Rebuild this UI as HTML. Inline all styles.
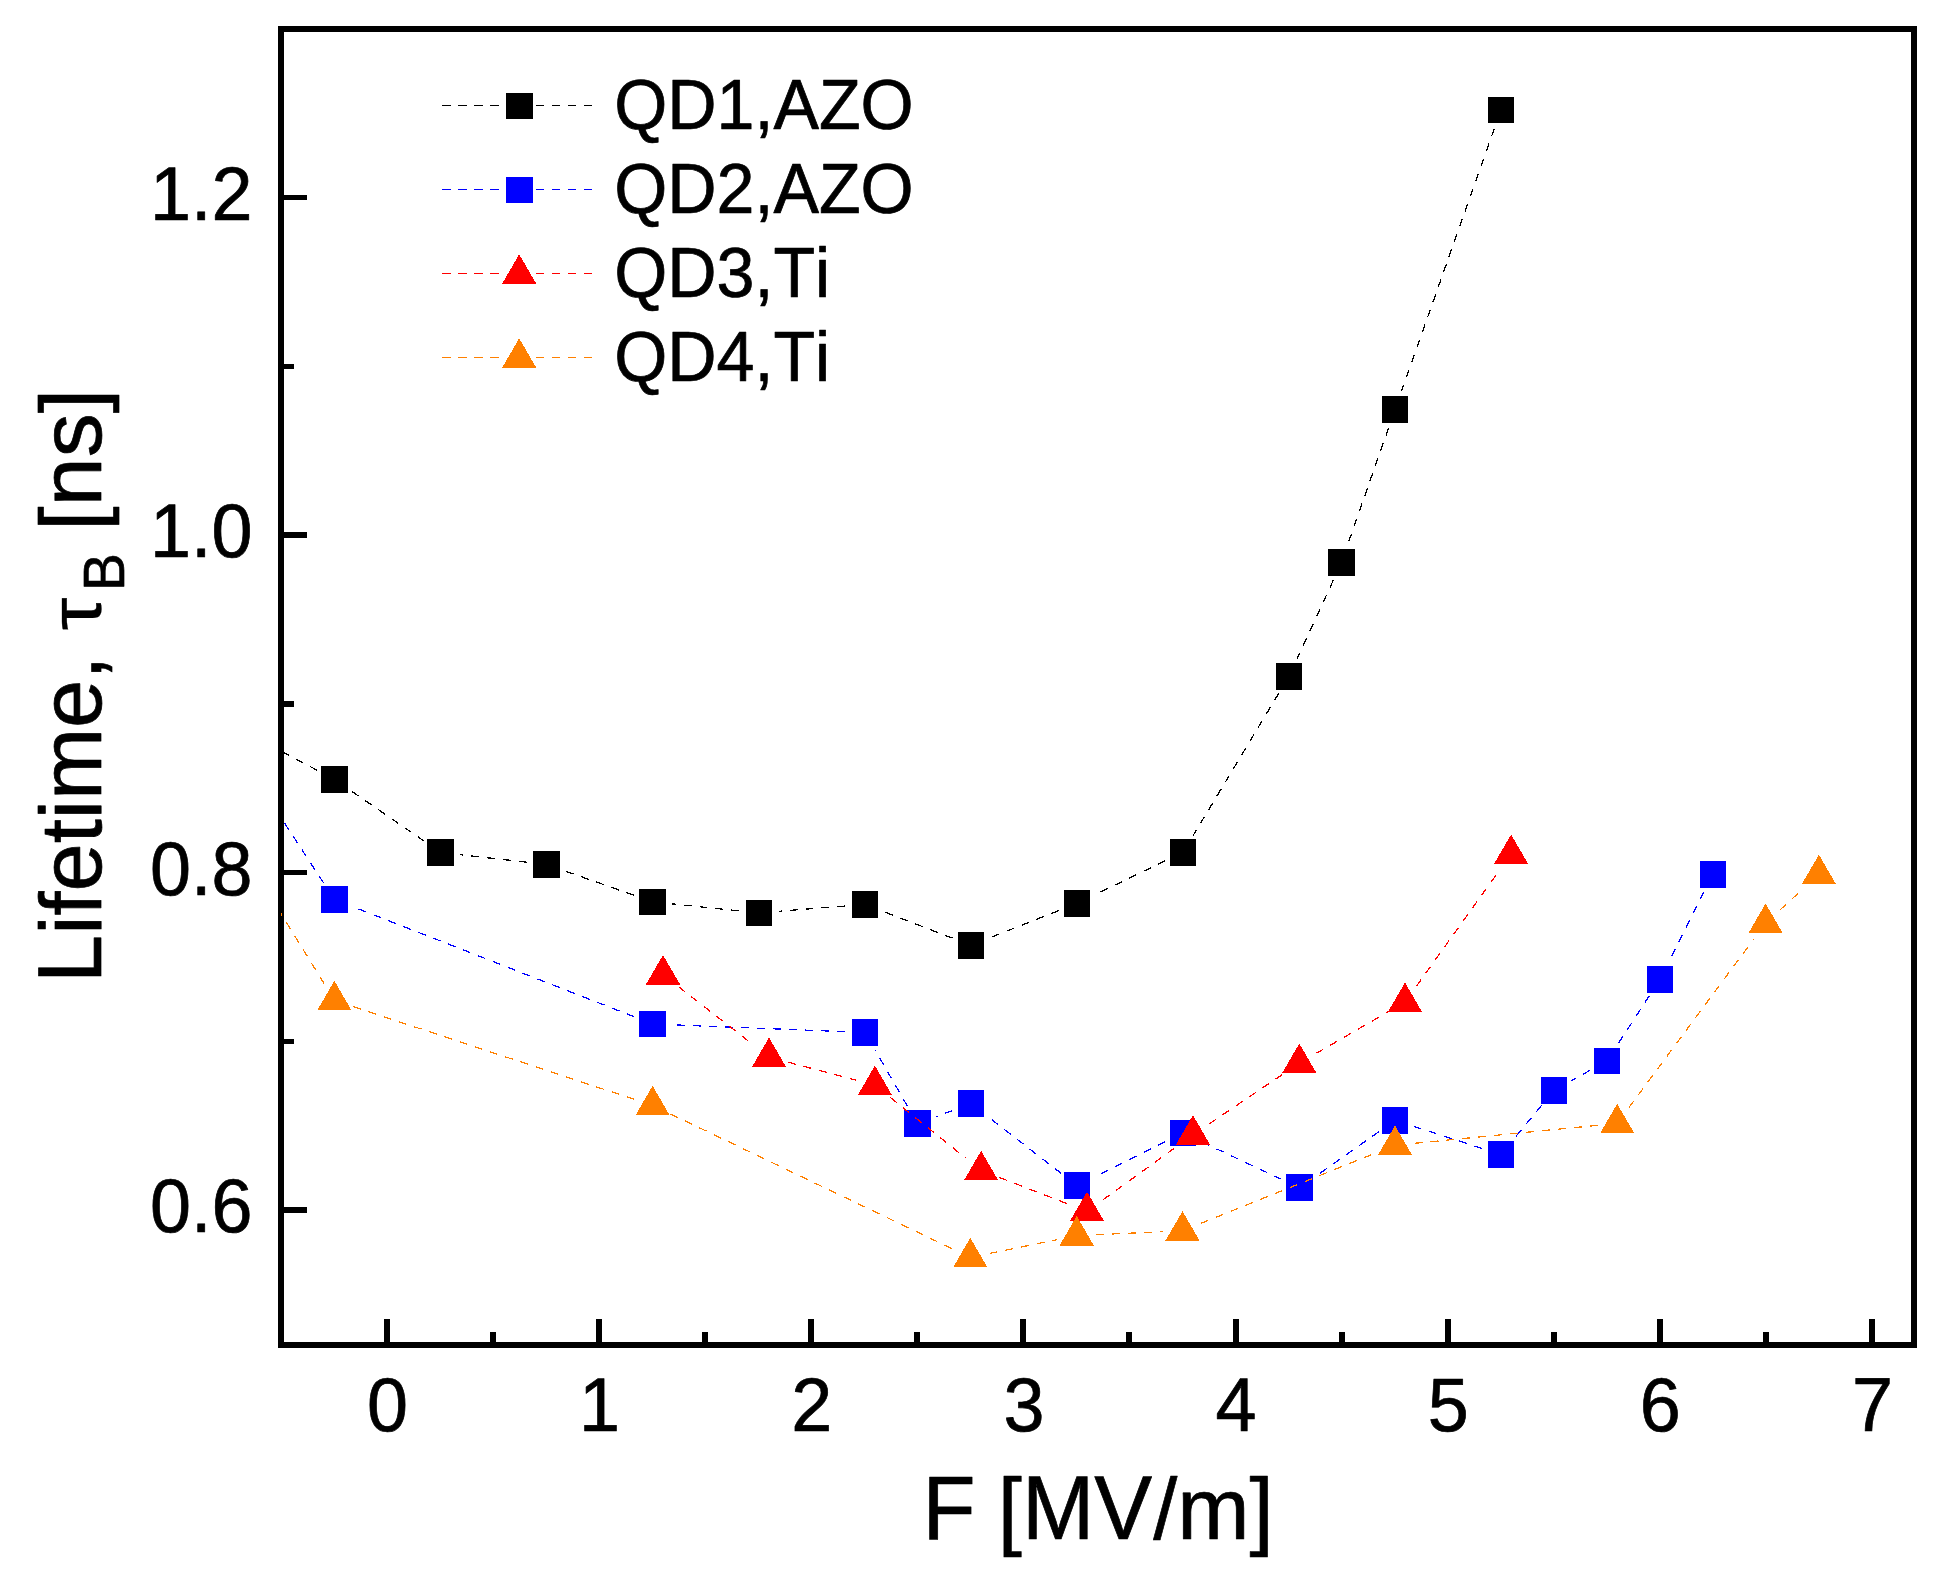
<!DOCTYPE html>
<html><head><meta charset="utf-8"><title>Lifetime vs F</title>
<style>
html,body{margin:0;padding:0;background:#fff;}
svg{display:block;}
text{font-family:"Liberation Sans",sans-serif;fill:#000;stroke:#000;stroke-width:0.7px;stroke-linejoin:round;font-kerning:none;}
</style></head><body>
<svg width="1942" height="1572" viewBox="0 0 1942 1572">
<rect x="0" y="0" width="1942" height="1572" fill="#fff"/>
<defs><clipPath id="plot"><rect x="281" y="29" width="1633" height="1316"/></clipPath></defs>

<g shape-rendering="crispEdges">
<rect x="281" y="29" width="1633" height="1316" fill="none" stroke="#000" stroke-width="6"/>
<g fill="#000"><rect x="384" y="1319" width="6" height="24"/><rect x="596" y="1319" width="6" height="24"/><rect x="808" y="1319" width="6" height="24"/><rect x="1020" y="1319" width="6" height="24"/><rect x="1233" y="1319" width="6" height="24"/><rect x="1445" y="1319" width="6" height="24"/><rect x="1657" y="1319" width="6" height="24"/><rect x="1869" y="1319" width="6" height="24"/><rect x="490" y="1332" width="6" height="11"/><rect x="702" y="1332" width="6" height="11"/><rect x="914" y="1332" width="6" height="11"/><rect x="1126" y="1332" width="6" height="11"/><rect x="1339" y="1332" width="6" height="11"/><rect x="1551" y="1332" width="6" height="11"/><rect x="1763" y="1332" width="6" height="11"/><rect x="283" y="195" width="24" height="5"/><rect x="283" y="532" width="24" height="6"/><rect x="283" y="870" width="24" height="5"/><rect x="283" y="1207" width="24" height="6"/><rect x="283" y="364" width="11" height="5"/><rect x="283" y="701" width="11" height="6"/><rect x="283" y="1039" width="11" height="5"/></g></g>
<g clip-path="url(#plot)">
<g stroke="#000" stroke-width="1.25" stroke-dasharray="8 8" fill="none" shape-rendering="crispEdges"><line x1="317.1" y1="770.2" x2="245.3" y2="732.4"/><line x1="424.4" y1="841.3" x2="350.7" y2="790.6"/><line x1="526.9" y1="862.2" x2="460.2" y2="854.7"/><line x1="634.0" y1="895.3" x2="565.1" y2="871.0"/><line x1="739.3" y1="910.9" x2="672.2" y2="903.9"/><line x1="845.4" y1="906.0" x2="778.5" y2="911.3"/><line x1="952.6" y1="938.2" x2="883.4" y2="911.5"/><line x1="1058.7" y1="910.6" x2="989.3" y2="938.0"/><line x1="1165.2" y1="860.8" x2="1094.8" y2="894.8"/><line x1="1278.8" y1="693.2" x2="1193.2" y2="835.4"/><line x1="1333.3" y1="580.2" x2="1297.2" y2="658.4"/><line x1="1388.5" y1="428.0" x2="1348.0" y2="543.7"/><line x1="1494.3" y1="128.5" x2="1401.6" y2="390.8"/></g>
<g fill="#000" shape-rendering="crispEdges"><rect x="321.25" y="766.15" width="26.5" height="26.5"/><rect x="427.35" y="839.25" width="26.5" height="26.5"/><rect x="533.25" y="851.15" width="26.5" height="26.5"/><rect x="639.35" y="888.65" width="26.5" height="26.5"/><rect x="745.65" y="899.65" width="26.5" height="26.5"/><rect x="851.75" y="891.15" width="26.5" height="26.5"/><rect x="957.75" y="932.05" width="26.5" height="26.5"/><rect x="1063.75" y="890.05" width="26.5" height="26.5"/><rect x="1169.75" y="839.05" width="26.5" height="26.5"/><rect x="1275.75" y="663.05" width="26.5" height="26.5"/><rect x="1328.25" y="549.05" width="26.5" height="26.5"/><rect x="1381.75" y="396.15" width="26.5" height="26.5"/><rect x="1487.65" y="96.65" width="26.5" height="26.5"/></g>
<g stroke="#0000ff" stroke-width="1.25" stroke-dasharray="8 8" fill="none" shape-rendering="crispEdges"><line x1="323.7" y1="883.0" x2="238.7" y2="753.0"/><line x1="634.3" y1="1016.8" x2="352.8" y2="906.7"/><line x1="845.3" y1="1031.7" x2="672.3" y2="1024.8"/><line x1="907.5" y1="1106.2" x2="874.8" y2="1049.6"/><line x1="952.5" y1="1110.5" x2="935.8" y2="1116.5"/><line x1="1061.4" y1="1173.5" x2="986.6" y2="1115.7"/><line x1="1165.3" y1="1141.8" x2="1094.7" y2="1176.8"/><line x1="1281.6" y1="1179.3" x2="1200.8" y2="1141.5"/><line x1="1378.9" y1="1131.7" x2="1315.5" y2="1176.4"/><line x1="1482.1" y1="1148.4" x2="1413.8" y2="1126.4"/><line x1="1541.6" y1="1105.4" x2="1513.5" y2="1139.3"/><line x1="1589.6" y1="1070.6" x2="1571.4" y2="1080.7"/><line x1="1649.2" y1="996.0" x2="1617.6" y2="1044.5"/><line x1="1704.0" y1="891.9" x2="1668.9" y2="961.9"/></g>
<g fill="#0000ff" shape-rendering="crispEdges"><rect x="321.25" y="886.25" width="26.5" height="26.5"/><rect x="639.35" y="1010.75" width="26.5" height="26.5"/><rect x="851.75" y="1019.25" width="26.5" height="26.5"/><rect x="904.05" y="1110.05" width="26.5" height="26.5"/><rect x="957.75" y="1090.45" width="26.5" height="26.5"/><rect x="1063.75" y="1172.25" width="26.5" height="26.5"/><rect x="1169.75" y="1119.85" width="26.5" height="26.5"/><rect x="1286.15" y="1174.45" width="26.5" height="26.5"/><rect x="1381.75" y="1107.15" width="26.5" height="26.5"/><rect x="1487.65" y="1141.15" width="26.5" height="26.5"/><rect x="1540.95" y="1077.05" width="26.5" height="26.5"/><rect x="1593.55" y="1047.75" width="26.5" height="26.5"/><rect x="1646.75" y="966.25" width="26.5" height="26.5"/><rect x="1699.65" y="861.05" width="26.5" height="26.5"/></g>
<g stroke="#ff0000" stroke-width="1.25" stroke-dasharray="8 8" fill="none" shape-rendering="crispEdges"><line x1="678.5" y1="986.7" x2="753.5" y2="1045.0"/><line x1="788.0" y1="1062.2" x2="855.9" y2="1080.1"/><line x1="890.3" y1="1097.5" x2="965.7" y2="1158.1"/><line x1="999.5" y1="1177.5" x2="1068.6" y2="1204.2"/><line x1="1103.0" y1="1199.8" x2="1177.0" y2="1146.3"/><line x1="1209.3" y1="1123.8" x2="1283.0" y2="1074.1"/><line x1="1316.4" y1="1053.3" x2="1387.9" y2="1011.9"/><line x1="1416.5" y1="986.1" x2="1499.6" y2="870.1"/></g>
<g fill="#ff0000" shape-rendering="crispEdges"><polygon points="663.0,955.0 645.9,984.5 680.1,984.5"/><polygon points="769.0,1037.5 751.9,1067.0 786.1,1067.0"/><polygon points="874.9,1065.6 857.8,1095.1 892.0,1095.1"/><polygon points="981.1,1150.8 964.0,1180.3 998.2,1180.3"/><polygon points="1087.0,1191.7 1069.9,1221.2 1104.1,1221.2"/><polygon points="1193.0,1115.2 1175.9,1144.7 1210.1,1144.7"/><polygon points="1299.3,1043.5 1282.2,1073.0 1316.4,1073.0"/><polygon points="1405.0,982.5 1387.9,1012.0 1422.1,1012.0"/><polygon points="1511.1,834.5 1494.0,864.0 1528.2,864.0"/></g>
<g stroke="#ff8000" stroke-width="1.25" stroke-dasharray="8 8" fill="none" shape-rendering="crispEdges"><line x1="324.1" y1="983.6" x2="238.2" y2="844.1"/><line x1="353.1" y1="1006.6" x2="633.9" y2="1099.2"/><line x1="670.4" y1="1113.9" x2="952.5" y2="1248.9"/><line x1="989.6" y1="1253.4" x2="1057.4" y2="1239.6"/><line x1="1096.4" y1="1234.7" x2="1162.8" y2="1231.7"/><line x1="1200.8" y1="1223.4" x2="1376.7" y2="1152.6"/><line x1="1414.6" y1="1143.3" x2="1597.6" y2="1125.3"/><line x1="1628.9" y1="1107.6" x2="1753.9" y2="938.9"/><line x1="1780.1" y1="909.8" x2="1804.4" y2="887.6"/></g>
<g fill="#ff8000" shape-rendering="crispEdges"><polygon points="334.4,980.8 317.3,1010.3 351.5,1010.3"/><polygon points="652.6,1085.8 635.5,1115.3 669.7,1115.3"/><polygon points="970.3,1237.8 953.2,1267.3 987.4,1267.3"/><polygon points="1076.7,1216.0 1059.6,1245.5 1093.8,1245.5"/><polygon points="1182.5,1211.2 1165.4,1240.7 1199.6,1240.7"/><polygon points="1395.0,1125.6 1377.9,1155.1 1412.1,1155.1"/><polygon points="1617.2,1103.8 1600.1,1133.3 1634.3,1133.3"/><polygon points="1765.6,903.5 1748.5,933.0 1782.7,933.0"/><polygon points="1818.9,854.7 1801.8,884.2 1836.0,884.2"/></g>
</g>
<g><text transform="translate(387.5,1431.0) scale(1.0,1.04)" font-size="73.7" text-anchor="middle">0</text><text transform="translate(599.6,1431.0) scale(1.0,1.04)" font-size="73.7" text-anchor="middle">1</text><text transform="translate(811.8,1431.0) scale(1.0,1.04)" font-size="73.7" text-anchor="middle">2</text><text transform="translate(1023.9,1431.0) scale(1.0,1.04)" font-size="73.7" text-anchor="middle">3</text><text transform="translate(1236.1,1431.0) scale(1.0,1.04)" font-size="73.7" text-anchor="middle">4</text><text transform="translate(1448.2,1431.0) scale(1.0,1.04)" font-size="73.7" text-anchor="middle">5</text><text transform="translate(1660.3,1431.0) scale(1.0,1.04)" font-size="73.7" text-anchor="middle">6</text><text transform="translate(1872.5,1431.0) scale(1.0,1.04)" font-size="73.7" text-anchor="middle">7</text><text transform="translate(252.5,1232.0) scale(1.0,1.04)" font-size="73.7" text-anchor="end">0.6</text><text transform="translate(252.5,894.5) scale(1.0,1.04)" font-size="73.7" text-anchor="end">0.8</text><text transform="translate(252.5,557.0) scale(1.0,1.04)" font-size="73.7" text-anchor="end">1.0</text><text transform="translate(252.5,219.5) scale(1.0,1.04)" font-size="73.7" text-anchor="end">1.2</text></g>
<text y="1538.8" font-size="86.8"><tspan x="922.5" font-size="91.57" textLength="53.02" lengthAdjust="spacingAndGlyphs">F</tspan><tspan x="973.7"> [</tspan><tspan x="1021.9" font-size="91.57" textLength="130.2" lengthAdjust="spacingAndGlyphs">MV</tspan><tspan x="1153.2">/</tspan><tspan x="1177.3">m</tspan><tspan x="1249.6">]</tspan></text>
<text transform="translate(100.8,0) rotate(-90)" y="0" font-size="86.6"><tspan x="-983" font-size="90.06" textLength="48.16" lengthAdjust="spacingAndGlyphs">L</tspan><tspan x="-934.8">ifetime, </tspan><tspan x="-630.4" font-size="74.5" textLength="32.96" lengthAdjust="spacingAndGlyphs" style="stroke-width:0.3px">τ</tspan><tspan x="-591" dy="23" font-size="57">B</tspan><tspan x="-555.1" dy="-23" font-size="88"> [ns]</tspan></text>
<g fill="#000" shape-rendering="crispEdges"><rect x="442" y="105" width="9" height="1"/><rect x="458" y="105" width="9" height="1"/><rect x="474" y="105" width="9" height="1"/><rect x="490" y="105" width="9" height="1"/><rect x="536" y="105" width="8" height="1"/><rect x="552" y="105" width="8" height="1"/><rect x="568" y="105" width="8" height="1"/><rect x="584" y="105" width="8" height="1"/></g>
<rect x="506" y="93" width="27" height="26" fill="#000" shape-rendering="crispEdges"/>
<text transform="translate(614.3,129) scale(1.0,1.04)" font-size="68.2" text-anchor="start">QD1,AZO</text>
<g fill="#0000ff" shape-rendering="crispEdges"><rect x="442" y="189" width="9" height="1"/><rect x="458" y="189" width="9" height="1"/><rect x="474" y="189" width="9" height="1"/><rect x="490" y="189" width="9" height="1"/><rect x="536" y="189" width="8" height="1"/><rect x="552" y="189" width="8" height="1"/><rect x="568" y="189" width="8" height="1"/><rect x="584" y="189" width="8" height="1"/></g>
<rect x="506" y="177" width="27" height="26" fill="#0000ff" shape-rendering="crispEdges"/>
<text transform="translate(614.3,213.2) scale(1.0,1.04)" font-size="68.2" text-anchor="start">QD2,AZO</text>
<g fill="#ff0000" shape-rendering="crispEdges"><rect x="442" y="273" width="9" height="1"/><rect x="458" y="273" width="9" height="1"/><rect x="474" y="273" width="9" height="1"/><rect x="490" y="273" width="9" height="1"/><rect x="536" y="273" width="8" height="1"/><rect x="552" y="273" width="8" height="1"/><rect x="568" y="273" width="8" height="1"/><rect x="584" y="273" width="8" height="1"/></g>
<g fill="#ff0000" shape-rendering="crispEdges"><polygon points="519.2,254.3 502.1,283.8 536.3,283.8"/></g>
<text transform="translate(614.3,297.1) scale(1.0,1.04)" font-size="68.2" text-anchor="start">QD3,Ti</text>
<g fill="#ff8000" shape-rendering="crispEdges"><rect x="442" y="357" width="9" height="1"/><rect x="458" y="357" width="9" height="1"/><rect x="474" y="357" width="9" height="1"/><rect x="490" y="357" width="9" height="1"/><rect x="536" y="357" width="8" height="1"/><rect x="552" y="357" width="8" height="1"/><rect x="568" y="357" width="8" height="1"/><rect x="584" y="357" width="8" height="1"/></g>
<g fill="#ff8000" shape-rendering="crispEdges"><polygon points="519.2,338.3 502.1,367.8 536.3,367.8"/></g>
<text transform="translate(614.3,381.1) scale(1.0,1.04)" font-size="68.2" text-anchor="start">QD4,Ti</text>
</svg></body></html>
